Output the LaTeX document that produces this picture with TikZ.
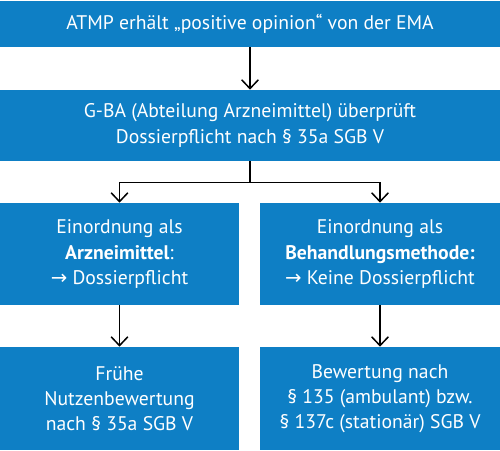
\documentclass[tikz,border=0pt]{standalone}
\usepackage{fontspec}
\setmainfont{PT Sans}
\newfontfamily\symfont{DejaVu Sans}
\usetikzlibrary{arrows.meta}
\definecolor{emablue}{RGB}{14,127,197}

\begin{document}
\begin{tikzpicture}[x=0.02cm,y=-0.02cm,
		box/.style={fill=emablue,text=white,align=center,inner sep=0pt,font=\fontsize{11.2}{14.4}\selectfont},
		flow/.style={line width=0.85pt,-{Straight Barb[length=5pt,width=9.5pt]}}]
			\useasboundingbox (0,0) rectangle (500,450);

			\node[box,minimum width=10cm,minimum height=0.92cm] (ema) at (250,24) {ATMP erhält „positive opinion“ von der EMA};
			\node[box,minimum width=10cm,minimum height=1.42cm] (gba) at (250,125.5) {G-BA (Abteilung Arzneimittel) überprüft\\Dossierpflicht nach § 35a SGB V};

			\node[box,minimum width=4.78cm,minimum height=2.04cm] (arz) at (119.5,254) {Einordnung als\\\textbf{Arzneimittel}:\\{\symfont →} Dossierpflicht};
			\node[box,minimum width=4.8cm,minimum height=2.04cm] (beh) at (380,254) {Einordnung als\\\textbf{Behandlungsmethode:}\\{\symfont →} Keine Dossierpflicht};

			\node[box,minimum width=4.78cm,minimum height=2.06cm] (nutz) at (119.5,398.5) {Frühe\\Nutzenbewertung\\nach § 35a SGB V};
			\node[box,minimum width=4.8cm,minimum height=2.06cm] (bew) at (380,398.5) {Bewertung nach\\§ 135 (ambulant) bzw.\\§ 137c (stationär) SGB V};

			\draw[flow] (ema) -- (gba);
			\draw[line width=0.85pt] (gba.south) -- ++(0,21) coordinate (split);
			\draw[flow] (split) -| (arz.north);
			\draw[flow] (split) -| (beh.north);
			\draw[flow] (arz) -- (nutz);
			\draw[flow] (beh) -- (bew);
		\end{tikzpicture}
\end{document}
